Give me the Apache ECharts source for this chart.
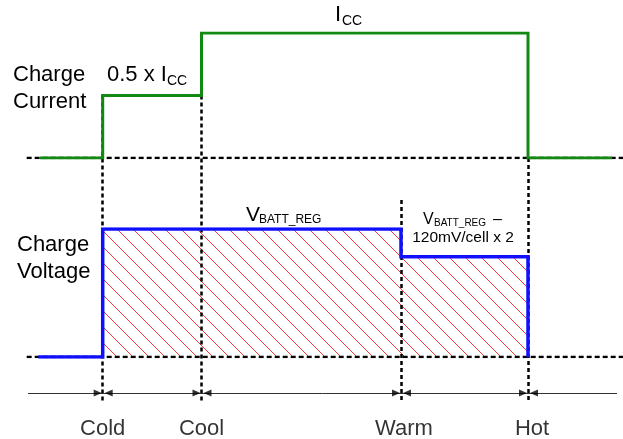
<!DOCTYPE html>
<html><head><meta charset="utf-8">
<script src="https://cdn.jsdelivr.net/npm/echarts@6/dist/echarts.min.js"></script>
<style>html,body{margin:0;padding:0;background:#fff}#c{width:623px;height:439px}</style>
</head><body><div id="c"></div>
<script>
// ---------------- data ----------------
const zoneNames = ['Cold', 'Cool', 'Warm', 'Hot'];
const zoneThresholds = [10.27, 20.15, 40.1, 52.8];   // temperature axis (arbitrary units)
const currentStart = 4.0, currentEnd = 61.2;         // extent of the current trace
const voltageStart = 3.83;                            // start of the voltage trace (ends at Hot)
const currentLevels = [0, 0.5, 1, 1, 0];              // × I_CC per zone: <Cold, Cold-Cool, Cool-Warm, Warm-Hot, >Hot
const voltageLevels = [0, 1, 1, 0.784, 0];            // × V_BATT_REG per zone (relative, not to scale)

// ---------------- layout ----------------
const FONT = "'Liberation Sans', Arial, sans-serif";
const X_MAX = 62.3;
const CUR = { top: 33, height: 125 };
const VOL = { top: 229, height: 128 };
const baseLineFrom = 2.67;
const guideTops = [95.5, 95.5, 200, 158];
const guideBottom = 403;
const axisY = 393, axisFrom = 2.8, axisTo = 61.7;
const labelY = 429;
const labelShift = [0, 0, 3, 4];

function stepPoints(start, levels, end) {
  const pts = [[start, levels[0]]];
  zoneThresholds.forEach((t, i) => { pts.push([t, levels[i]]); pts.push([t, levels[i + 1]]); });
  if (end != null) pts.push([end, levels[levels.length - 1]]);
  return pts;
}
const currentData = stepPoints(currentStart, currentLevels, currentEnd);
const voltageData = stepPoints(voltageStart, voltageLevels, null);

function hatch() {
  const s = 16, c = document.createElement('canvas');
  c.width = s; c.height = s;
  const g = c.getContext('2d');
  g.strokeStyle = 'rgba(255,30,30,0.9)'; g.lineWidth = 1;
  g.beginPath();
  g.moveTo(0, 0); g.lineTo(s, s);
  g.moveTo(-2, s - 2); g.lineTo(2, s + 2);
  g.moveTo(s - 2, -2); g.lineTo(s + 2, 2);
  g.stroke();
  return c;
}

const chart = echarts.init(document.getElementById('c'), null, { renderer: 'canvas' });
const hiddenX = i => ({ type: 'value', gridIndex: i, min: 0, max: X_MAX, show: false });
const rightArrow = 'path://M0,0L8,3.5L0,7Z';
const leftArrow = 'path://M8,0L0,3.5L8,7Z';

// text placed by its alphabetic baseline
function txt(text, x, baseline, size, align) {
  return { type: 'text', x: x, y: baseline - 0.845 * size, z: 10,
    style: { text: text, fill: '#000', font: size + 'px ' + FONT, textAlign: align || 'left', verticalAlign: 'top' } };
}

chart.setOption({
  animation: false,
  backgroundColor: '#fff',
  grid: [
    { left: 0, right: 0, top: CUR.top, height: CUR.height },
    { left: 0, right: 0, top: VOL.top, height: VOL.height },
    { left: 0, right: 0, top: 0, bottom: 0 }
  ],
  xAxis: [hiddenX(0), hiddenX(1), hiddenX(2)],
  yAxis: [
    { type: 'value', gridIndex: 0, min: 0, max: 1, show: false },
    { type: 'value', gridIndex: 1, min: 0, max: 1, show: false },
    { type: 'value', gridIndex: 2, min: 0, max: 439, inverse: true, show: false }
  ],
  series: [
    // dotted baselines
    { type: 'line', xAxisIndex: 0, yAxisIndex: 0, z: 2, symbol: 'none', silent: true,
      data: [[baseLineFrom, 0], [X_MAX, 0]],
      lineStyle: { color: '#000', width: 2.5, type: [5, 3] } },
    { type: 'line', xAxisIndex: 1, yAxisIndex: 1, z: 2, symbol: 'none', silent: true,
      data: [[baseLineFrom, 0], [X_MAX, 0]],
      lineStyle: { color: '#000', width: 2.5, type: [5, 3] } },
    // hatched area under charge voltage
    { type: 'line', xAxisIndex: 1, yAxisIndex: 1, z: 1, symbol: 'none', silent: true,
      data: voltageData, lineStyle: { width: 0, opacity: 0 },
      areaStyle: { origin: 'start', opacity: 1, color: { image: hatch(), repeat: 'repeat' } } },
    // vertical dotted guides
    { type: 'lines', coordinateSystem: 'cartesian2d', xAxisIndex: 2, yAxisIndex: 2, z: 3, silent: true,
      data: zoneThresholds.map((t, i) => ({ coords: [[t, guideTops[i]], [t, guideBottom]] })),
      lineStyle: { color: '#000', width: 2.5, type: [4, 3], opacity: 1 } },
    // temperature axis line
    { type: 'lines', coordinateSystem: 'cartesian2d', xAxisIndex: 2, yAxisIndex: 2, z: 3, silent: true,
      data: [{ coords: [[axisFrom, axisY], [axisTo, axisY]] }],
      lineStyle: { color: '#333', width: 1, type: 'solid', opacity: 1 } },
    // arrowheads
    { type: 'scatter', xAxisIndex: 2, yAxisIndex: 2, z: 4, silent: true,
      symbol: rightArrow, symbolSize: [8, 7], symbolOffset: [-5, 0], itemStyle: { color: '#000' },
      data: zoneThresholds.map(t => [t, axisY]) },
    { type: 'scatter', xAxisIndex: 2, yAxisIndex: 2, z: 4, silent: true,
      symbol: leftArrow, symbolSize: [8, 7], symbolOffset: [6, 0], itemStyle: { color: '#000' },
      data: zoneThresholds.map(t => [t, axisY]) },
    // zone labels
    { type: 'scatter', xAxisIndex: 2, yAxisIndex: 2, z: 4, silent: true, symbolSize: 0,
      data: zoneThresholds.map((t, i) => ({ value: [t, labelY], name: zoneNames[i],
        label: { offset: [labelShift[i], 0] } })),
      label: { show: true, position: 'inside', formatter: p => p.name, color: '#000',
        fontFamily: FONT, fontSize: 22 } },
    // charge current
    { type: 'line', name: 'Charge Current', xAxisIndex: 0, yAxisIndex: 0, z: 5, symbol: 'none',
      data: currentData, lineStyle: { color: '#128a12', width: 3, join: 'miter', cap: 'butt' } },
    // charge voltage
    { type: 'line', name: 'Charge Voltage', xAxisIndex: 1, yAxisIndex: 1, z: 5, symbol: 'none',
      data: voltageData, lineStyle: { color: '#1010ff', width: 3.5, join: 'miter', cap: 'butt' } }
  ],
  graphic: [
    txt('Charge', 13, 83, 22), txt('Current', 13, 110, 22),
    txt('Charge', 17, 253, 22), txt('Voltage', 17, 280, 22),
    txt('0.5 x I', 107, 83, 22), txt('CC', 167, 86, 14),
    txt('I', 335, 23, 22), txt('CC', 342, 26, 14),
    txt('V', 246, 222, 21), txt('BATT_REG', 259, 224, 12),
    txt('V', 423, 225, 16), txt('BATT_REG', 434, 227, 10), txt('\u2013', 493, 225, 16),
    txt('120mV/cell x 2', 463, 243, 15.5, 'center')
  ]
});
</script></body></html>
